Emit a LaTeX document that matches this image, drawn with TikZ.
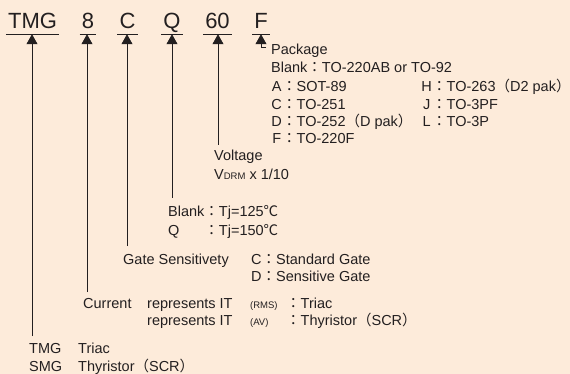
\documentclass[tikz,border=0pt]{standalone}
\usepackage{fontspec}
\setmainfont{Liberation Sans}
\newfontfamily\cjk{Noto Sans CJK JP}
\usetikzlibrary{arrows.meta}
\definecolor{bg}{RGB}{253,235,218}
\definecolor{ink}{RGB}{35,31,32}
\newcommand\fw[1]{{\cjk #1}}
\newcommand\cl{\fw{：}}
\newcommand\sm[1]{{\fontsize{9.5}{12}\selectfont #1}}
\newcommand\ltr[1]{\makebox[11pt][c]{#1}}
\begin{document}
\begin{tikzpicture}[x=1pt,y=-1pt,
  code/.style={font=\fontsize{22}{26}\selectfont, text=ink, inner xsep=2pt, inner ysep=5pt, text depth=0pt, text height=16pt, anchor=base},
  uline/.style={draw=ink, line width=0.9pt},
  arr/.style={draw=ink, line width=0.8pt, -{Triangle[length=10pt,width=11pt]}},
  txt/.style={font=\fontsize{14.5}{18}\selectfont, text=ink, anchor=base west, inner sep=0pt}]
\fill[bg] (0,0) rectangle (570,374);
\useasboundingbox (0,0) rectangle (570,374);
% code letters
\node[code] (tmg) at (32.5,29) {TMG};
\node[code] (n8) at (88,29) {8};
\node[code] (c) at (127.5,29) {C};
\node[code] (q) at (172,29) {Q};
\node[code] (v60) at (217.5,29) {60};
\node[code] (f) at (261,29) {F};
\foreach \n in {tmg,n8,c,q,v60,f} \draw[uline] (\n.south west) -- (\n.south east);
% connector ends
\coordinate (eTMG) at (32,336);
\coordinate (e8) at (87,292);
\coordinate (eC) at (127,246);
\coordinate (eQ) at (172,198);
\coordinate (e60) at (218,145);
\coordinate (eF) at (266,47);
\draw[arr] (eTMG) -- (eTMG |- tmg.south);
\draw[arr] (e8) -- (e8 |- n8.south);
\draw[arr] (eC) -- (eC |- c.south);
\draw[arr] (eQ) -- (eQ |- q.south);
\draw[arr] (e60) -- (e60 |- v60.south);
\draw[arr] (eF) -- (eF -| f.south) -- (f.south);
% package
\node[txt] (pk) at (271,55) {Package};
\node[txt] (pkb) at (271,73) {Blank\cl TO-220AB or TO-92};
\node[txt] (pka) at (271,92) {\ltr{A}\cl SOT-89};
\node[txt] (pkc) at (271,110) {\ltr{C}\cl TO-251};
\node[txt] (pkd) at (271,127) {\ltr{D}\cl TO-252\fw{（}D pak\fw{）}};
\node[txt] (pkf) at (271,144) {\ltr{F}\cl TO-220F};
\node[txt] (pkh) at (421,92) {\ltr{H}\cl TO-263\fw{（}D2 pak\fw{）}};
\node[txt] (pkj) at (421,110) {\ltr{J}\cl TO-3PF};
\node[txt] (pkl) at (421,127) {\ltr{L}\cl TO-3P};
% voltage
\node[txt] (vo) at (214,161) {Voltage};
\node[txt] (vd) at (214,180) {V\sm{DRM} x 1/10};
% Tj
\node[txt] (tj1) at (168,216) {Blank\cl Tj=125\fw{℃}};
\node[txt] (tj2) at (168,235) {\rlap{Q}\phantom{Blank}\cl Tj=150\fw{℃}};
% gate
\node[txt] (gs) at (123,264) {Gate Sensitivety};
\node[txt] (gc) at (251,264) {C\cl Standard Gate};
\node[txt] (gd) at (251,281) {D\cl Sensitive Gate};
% current
\node[txt] (cu) at (83,308) {Current};
\node[txt] (r1) at (147,308) {represents IT};
\node[txt] (r1s) at (250,308) {\sm{(RMS)}};
\node[txt] (r1t) at (286,308) {\cl Triac};
\node[txt] (r2) at (147,325) {represents IT};
\node[txt] (r2s) at (250,325) {\sm{(AV)}};
\node[txt] (r2t) at (286,325) {\cl Thyristor\fw{（}SCR\fw{）}};
% series
\node[txt] (s1) at (29,353) {TMG};
\node[txt] (s1t) at (78,353) {Triac};
\node[txt] (s2) at (29,371) {SMG};
\node[txt] (s2t) at (78,371) {Thyristor\fw{（}SCR\fw{）}};
\end{tikzpicture}
\end{document}
